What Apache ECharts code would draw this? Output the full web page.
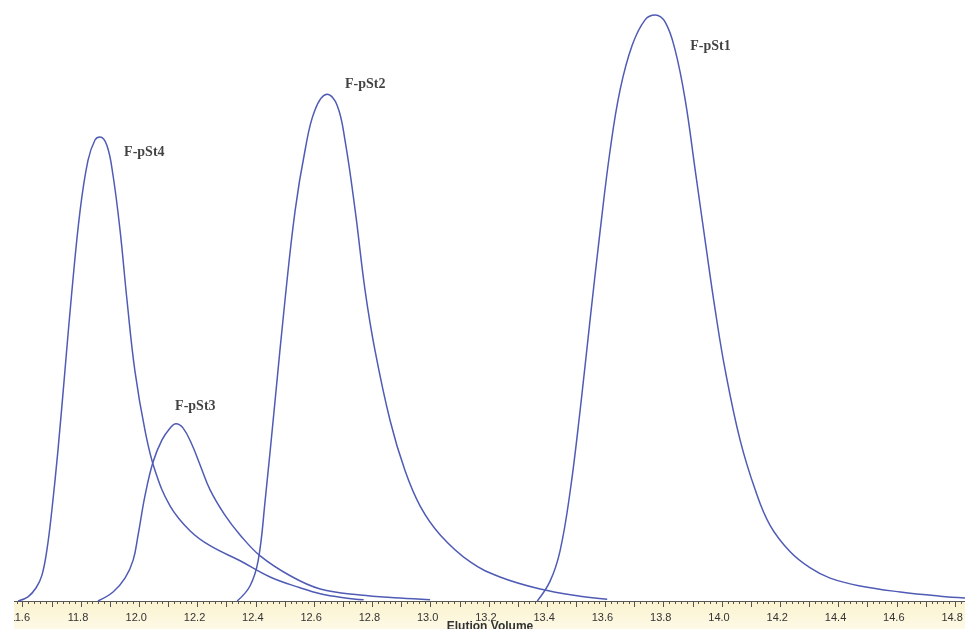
<!DOCTYPE html>
<html>
<head>
<meta charset="utf-8">
<script src="https://cdn.jsdelivr.net/npm/echarts@6/dist/echarts.min.js"></script>
<style>
  html, body { margin: 0; padding: 0; background: #ffffff; }
  #chart { width: 965px; height: 629px; }
</style>
</head>
<body>
<div id="chart"></div>
<script>
// Elution volume axis labels (mL)
const tickLabels = ['11.6', '11.8', '12.0', '12.2', '12.4', '12.6', '12.8', '13.0', '13.2', '13.4', '13.6', '13.8', '14.0', '14.2', '14.4', '14.6', '14.8'];

// Detector response traces: [elution volume, signal]
const pSt4 = [
  [11.584, 0.0], [11.618, 0.7], [11.646, 2.2], [11.666, 4.3], [11.683, 8.5],
  [11.700, 15.1], [11.721, 25.1], [11.745, 38.4], [11.769, 51.7], [11.797, 65.0],
  [11.824, 73.3], [11.848, 76.7], [11.865, 77.2], [11.889, 75.8], [11.910, 70.8],
  [11.934, 61.7], [11.958, 50.0], [11.985, 38.3], [12.020, 28.3], [12.054, 21.7],
  [12.106, 15.8], [12.174, 11.7], [12.243, 9.2], [12.346, 6.7], [12.449, 4.0],
  [12.552, 2.2], [12.621, 1.2], [12.707, 0.5], [12.770, 0.2]
];

const pSt3 = [
  [11.858, 0.0], [11.910, 1.5], [11.951, 3.8], [11.979, 6.8], [11.996, 11.0],
  [12.020, 17.6], [12.047, 23.1], [12.078, 26.8], [12.106, 28.8], [12.126, 29.5],
  [12.150, 28.8], [12.181, 26.0], [12.209, 22.6], [12.243, 18.5], [12.294, 14.3],
  [12.346, 11.0], [12.415, 7.5], [12.518, 4.2], [12.621, 2.0], [12.758, 1.0],
  [12.895, 0.5], [12.998, 0.2]
];

const pSt2 = [
  [12.336, 0.0], [12.380, 2.5], [12.408, 6.7], [12.432, 16.7], [12.466, 33.3],
  [12.500, 50.0], [12.535, 65.0], [12.569, 75.0], [12.603, 81.7], [12.645, 84.3],
  [12.679, 82.5], [12.706, 76.7], [12.741, 65.0], [12.775, 51.7], [12.809, 41.7],
  [12.861, 30.0], [12.912, 21.7], [12.964, 15.8], [13.033, 11.0], [13.136, 6.5],
  [13.238, 4.0], [13.376, 2.0], [13.513, 0.8], [13.606, 0.3]
];

const pSt1 = [
  [13.366, 0.0], [13.410, 3.3], [13.444, 8.3], [13.479, 18.3], [13.513, 31.7],
  [13.547, 46.7], [13.582, 61.7], [13.616, 75.0], [13.650, 85.0], [13.692, 92.5],
  [13.736, 96.7], [13.771, 97.5], [13.805, 96.3], [13.839, 91.7], [13.874, 83.3],
  [13.908, 71.7], [13.942, 60.0], [13.977, 48.3], [14.011, 38.4], [14.062, 26.8],
  [14.114, 18.5], [14.165, 12.6], [14.234, 8.2], [14.303, 5.5], [14.371, 3.8],
  [14.474, 2.5], [14.612, 1.5], [14.749, 0.8], [14.834, 0.5]
];

// Peak annotations: [label, elution volume, signal]
const peakNames = ['F-pSt1', 'F-pSt2', 'F-pSt3', 'F-pSt4'];
const peakLabelPos = [[13.891, 92.3], [12.706, 85.9], [12.123, 32.3], [11.948, 74.7]];

const xMin = 11.522, xMax = 14.834;
const lineColor = '#4f5bb5';

const majorTicks = [];
for (let v = 11.6; v <= 14.81; v += 0.1) majorTicks.push(+v.toFixed(2));
const minorTicks = [];
for (let v = 11.54; v <= 14.83; v += 0.02) minorTicks.push(+v.toFixed(2));
const labelValues = tickLabels.map(Number);

const chart = echarts.init(document.getElementById('chart'), null, { renderer: 'canvas' });

function trace(name, data) {
  return {
    name, type: 'line', data, smooth: 0.4, symbol: 'none',
    lineStyle: { color: lineColor, width: 1.5 }, z: 3
  };
}

chart.setOption({
  animation: false,
  backgroundColor: '#ffffff',
  graphic: [{
    type: 'rect', z: -1, silent: true,
    shape: { x: 0, y: 601, width: 965, height: 28 },
    style: {
      fill: new echarts.graphic.LinearGradient(0, 0, 0, 1, [
        { offset: 0, color: '#fbf3cf' }, { offset: 1, color: '#fdf9e6' }
      ])
    }
  }, {
    type: 'rect', z: 100, silent: true,
    shape: { x: 0, y: 599, width: 14, height: 30 },
    style: { fill: '#ffffff' }
  }],
  grid: { left: 0, right: 0, top: 0, bottom: 28, containLabel: false, outerBoundsMode: 'none' },
  xAxis: [{
    type: 'value', min: xMin, max: xMax,
    name: 'Elution Volume', nameLocation: 'middle', nameGap: 20, nameMoveOverlap: false,
    nameTextStyle: {
      fontFamily: 'Liberation Sans', fontWeight: 'bold', fontSize: 12, color: '#333333',
      verticalAlign: 'top', padding: [0, 0, 0, 15]
    },
    axisLine: { show: true, lineStyle: { color: '#555555', width: 1 } },
    axisTick: { show: true, inside: false, length: 6, customValues: majorTicks, lineStyle: { color: '#555555' } },
    axisLabel: {
      show: true, customValues: labelValues, margin: 11,
      formatter: v => v.toFixed(1),
      padding: [0, 6, 0, 0],
      fontFamily: 'Liberation Sans', fontSize: 11, color: '#333333'
    },
    splitLine: { show: false }
  }, {
    type: 'value', min: xMin, max: xMax, position: 'bottom',
    axisLine: { show: false },
    axisTick: { show: true, inside: false, length: 3, customValues: minorTicks, lineStyle: { color: '#555555' } },
    axisLabel: { show: false },
    splitLine: { show: false }
  }],
  yAxis: { type: 'value', min: 0, max: 100, show: false },
  series: [
    trace('F-pSt1', pSt1),
    trace('F-pSt2', pSt2),
    trace('F-pSt3', pSt3),
    trace('F-pSt4', pSt4),
    {
      type: 'scatter', symbolSize: 0, silent: true,
      data: peakNames.map((n, i) => ({ value: peakLabelPos[i], name: n })),
      label: {
        show: true, position: 'right', distance: 0,
        formatter: p => p.name,
        fontFamily: 'Liberation Serif', fontWeight: 'bold', fontSize: 14, color: '#111111'
      }
    }
  ]
});
</script>
</body>
</html>
